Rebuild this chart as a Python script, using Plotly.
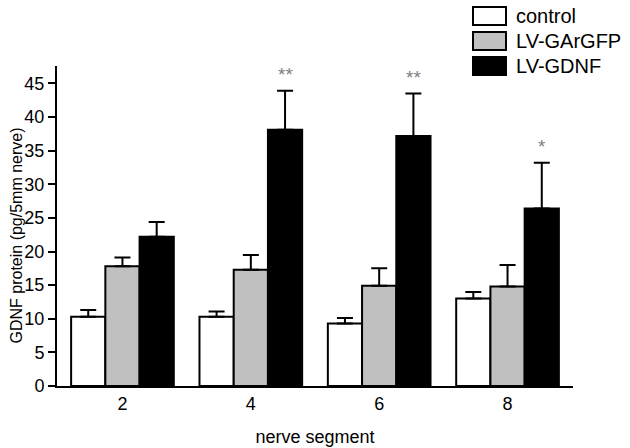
import plotly.graph_objects as go

segments = ["2", "4", "6", "8"]
series_names = ["control", "LV-GArGFP", "LV-GDNF"]
control = [10.3, 10.3, 9.3, 13.0]
control_err = [1.0, 0.8, 0.8, 1.0]
garGFP = [17.8, 17.3, 14.9, 14.8]
garGFP_err = [1.3, 2.2, 2.6, 3.2]
gdnf = [22.2, 38.1, 37.2, 26.4]
gdnf_err = [2.2, 5.8, 6.3, 6.8]
significance = ["", "**", "**", "*"]
y_title = "GDNF protein (pg/5mm nerve)"
x_title = "nerve segment"

fills = ["#ffffff", "#c0c0c0", "#000000"]
values = [control, garGFP, gdnf]
errors = [control_err, garGFP_err, gdnf_err]

FONT = "Liberation Sans, Arial, Helvetica, sans-serif"

fig = go.Figure()
for name, vals, errs, col in zip(series_names, values, errors, fills):
    fig.add_trace(go.Bar(
        x=list(range(len(segments))), y=vals, name=name,
        marker=dict(color=col, line=dict(color="#000000", width=2)),
        error_y=dict(type="data", symmetric=False, array=errs,
                     arrayminus=[0] * len(errs), color="#000000",
                     thickness=2, width=8),
        showlegend=False,
    ))

# significance marks above LV-GDNF bars
bar_w = 0.8 / 3
for i, s in enumerate(significance):
    if s:
        fig.add_annotation(x=i + bar_w, y=gdnf[i] + gdnf_err[i] + 2.4,
                           text=s, showarrow=False,
                           font=dict(family=FONT, size=19, color="#808080"),
                           xref="x", yref="y")

L, R, T, B = 57, 573, 66, 386
W, H = R - L, B - T
def px_x(p):
    return (p - L) / W
def px_y(p):
    return (B - p) / H

# legend drawn manually (large boxes)
for k, (name, col) in enumerate(zip(series_names, fills)):
    top = 7 + 25 * k
    fig.add_shape(type="rect", xref="paper", yref="paper",
                  x0=px_x(473), x1=px_x(506), y0=px_y(top + 18), y1=px_y(top),
                  fillcolor=col, line=dict(color="#000000", width=2))
    fig.add_annotation(xref="paper", yref="paper", x=px_x(514), y=px_y(top + 9),
                       xanchor="left", yanchor="middle", text=name,
                       showarrow=False,
                       font=dict(family=FONT, size=20, color="#000000"))

# y axis title
fig.add_annotation(xref="paper", yref="paper", x=px_x(16), y=px_y(235.5),
                   xanchor="center", yanchor="middle", textangle=-90,
                   text=y_title, showarrow=False,
                   font=dict(family=FONT, size=16, color="#000000"))

fig.update_layout(
    width=630, height=448,
    margin=dict(l=L, r=630 - R, t=T, b=448 - B),
    paper_bgcolor="#ffffff", plot_bgcolor="#ffffff",
    barmode="group", bargap=0.2, bargroupgap=0,
    font=dict(family=FONT, color="#000000"),
    xaxis=dict(
        range=[-0.51, 3.51], tickmode="array", automargin=False,
        tickvals=list(range(len(segments))), ticktext=segments,
        showline=True, linecolor="#000000", linewidth=2,
        ticks="", showgrid=False, zeroline=False,
        tickfont=dict(family=FONT, size=18, color="#000000"),
        title=dict(text=x_title, standoff=18,
                   font=dict(family=FONT, size=18, color="#000000")),
    ),
    yaxis=dict(
        range=[0, 47.6], tickmode="array", tickvals=list(range(0, 50, 5)),
        automargin=False,
        showline=True, linecolor="#000000", linewidth=2,
        ticks="outside", ticklen=7, tickwidth=2, tickcolor="#000000",
        showgrid=False, zeroline=False,
        tickfont=dict(family=FONT, size=18, color="#000000"),
    ),
)

fig.write_html("out.html", config={"displayModeBar": False},
               post_script="document.body.style.margin='0';document.body.style.overflow='hidden';")
